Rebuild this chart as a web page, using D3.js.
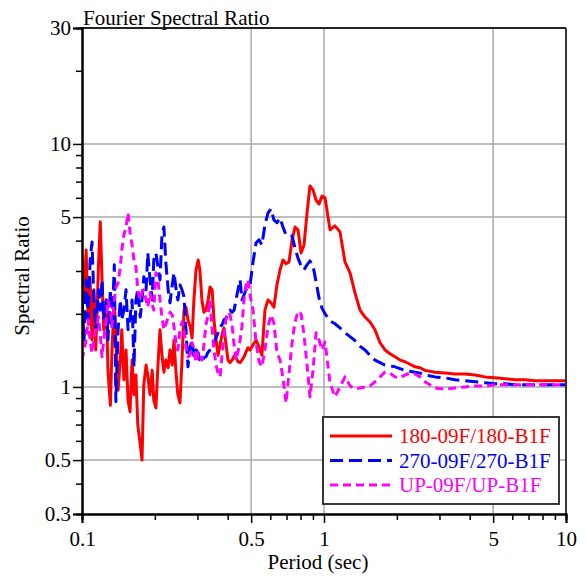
<!DOCTYPE html>
<html><head><meta charset="utf-8">
<script src="https://cdn.jsdelivr.net/npm/d3@7"></script>
</head>
<body style="margin:0"><svg id="c" width="586" height="581"></svg>
<script>
const periods = [0.100,0.102,0.104,0.106,0.108,0.110,0.112,0.114,0.117,0.119,0.121,0.123,0.126,0.128,0.131,0.133,0.136,0.138,0.141,0.144,0.146,0.149,0.152,0.155,0.158,0.161,0.164,0.167,0.170,0.174,0.177,0.180,0.184,0.187,0.191,0.195,0.198,0.202,0.206,0.210,0.214,0.218,0.222,0.227,0.231,0.236,0.240,0.245,0.249,0.254,0.259,0.264,0.269,0.274,0.280,0.285,0.290,0.296,0.302,0.307,0.313,0.319,0.325,0.332,0.338,0.345,0.351,0.358,0.365,0.372,0.379,0.386,0.394,0.401,0.409,0.417,0.425,0.433,0.441,0.450,0.458,0.467,0.476,0.485,0.495,
0.509,0.524,0.539,0.554,0.570,0.587,0.604,0.621,0.639,0.658,0.677,0.697,0.717,0.738,0.759,0.781,0.804,0.827,0.851,0.875,0.901,0.927,0.954,0.981,1.010,
1.059,1.110,1.164,1.221,1.281,1.343,1.409,1.477,1.549,1.624,1.704,1.787,1.874,1.965,2.061,2.161,2.267,2.377,2.494,2.615,
2.875,3.162,3.478,3.825,4.207,4.627,5.088,5.596,6.155,6.769,7.445,8.188,9.005,10.0];

const ratio180 = [3.49,2.28,3.66,1.89,2.76,1.56,2.51,1.42,3.18,4.78,2.76,1.72,2.28,1.17,0.84,1.42,2.28,1.56,0.97,1.29,1.72,1.07,1.42,0.88,0.79,1.29,0.93,1.12,0.70,0.58,0.50,1.02,1.23,1.12,0.93,1.17,0.88,0.82,1.23,1.72,1.35,1.15,1.29,1.20,1.42,1.23,1.56,1.12,0.93,0.86,1.29,2.07,2.13,1.89,1.77,1.59,2.28,3.03,3.33,3.03,2.28,2.03,2.07,2.28,2.58,2.51,1.89,1.56,1.35,1.49,1.64,1.75,1.49,1.29,1.26,1.29,1.34,1.32,1.27,1.26,1.29,1.33,1.39,1.45,1.42,
1.49,1.56,1.46,1.35,2.07,2.28,2.22,2.13,2.63,3.03,3.33,3.21,3.27,4.03,4.55,4.43,3.56,3.84,5.20,6.72,6.47,5.88,5.66,6.11,6.00,
4.43,4.60,4.35,3.27,2.95,2.44,2.07,1.94,1.85,1.72,1.52,1.42,1.37,1.33,1.29,1.27,1.24,1.21,1.20,1.17,
1.15,1.14,1.13,1.13,1.12,1.10,1.09,1.08,1.07,1.07,1.06,1.06,1.06,1.06];

const ratio270 = [2.28,1.56,2.76,1.89,3.33,3.95,2.28,1.72,2.51,2.07,2.76,1.89,2.28,1.56,2.51,1.72,3.18,0.87,1.72,2.28,1.89,2.07,2.51,1.72,1.94,2.28,1.21,2.28,2.51,1.94,2.28,2.84,2.51,3.56,2.76,2.28,3.33,3.56,3.12,2.76,4.22,4.55,3.27,2.51,2.22,2.63,2.95,2.51,2.28,2.63,2.51,2.35,1.72,1.21,1.46,1.56,1.33,1.42,1.38,1.29,1.26,1.32,1.33,1.39,1.42,1.46,1.53,1.59,1.67,1.77,1.80,1.89,1.92,2.03,2.07,2.03,2.07,2.28,2.51,2.76,2.28,2.39,2.51,2.58,2.63,
3.27,3.92,4.03,3.84,4.64,5.20,5.40,4.87,4.74,4.96,4.55,4.22,4.18,4.18,3.73,3.39,3.15,3.03,3.18,3.30,3.15,2.71,2.32,2.11,2.00,
1.87,1.82,1.75,1.67,1.61,1.55,1.47,1.42,1.35,1.29,1.26,1.23,1.22,1.21,1.19,1.17,1.16,1.15,1.14,1.12,
1.10,1.09,1.07,1.06,1.05,1.04,1.03,1.03,1.02,1.02,1.02,1.02,1.02,1.02];

const ratioUP = [1.29,1.42,1.56,1.89,1.56,1.38,1.56,1.72,1.94,1.64,1.33,1.56,1.89,2.28,2.07,1.77,2.28,2.56,2.68,3.12,3.66,4.22,4.55,5.20,4.31,3.84,3.33,3.12,2.51,2.28,2.46,2.51,2.28,2.13,2.44,2.18,2.07,2.95,2.76,2.28,1.94,1.72,1.80,1.94,2.03,1.98,1.77,1.49,1.42,1.72,1.85,1.72,1.46,1.33,1.35,1.52,1.42,1.26,1.39,1.35,1.29,1.49,1.80,1.98,2.28,1.72,1.42,1.23,1.14,1.10,1.35,1.64,1.92,2.02,1.98,1.80,1.49,1.29,1.39,1.56,1.77,2.28,2.63,2.76,2.39,
2.07,1.52,1.27,1.21,1.42,1.77,1.98,1.83,1.39,1.29,1.09,0.86,1.14,1.52,1.85,2.05,2.00,1.64,1.23,0.91,1.17,1.67,1.56,1.42,1.53,
1.04,0.91,1.00,1.10,1.01,0.98,0.99,1.00,1.01,1.05,1.10,1.15,1.14,1.10,1.09,1.12,1.14,1.13,1.10,1.05,
0.99,0.98,0.99,1.00,1.01,1.01,1.02,1.02,1.02,1.02,1.02,1.02,1.02,1.02];

const seriesNames = ["180-09F/180-B1F","270-09F/270-B1F","UP-09F/UP-B1F"];
const seriesColors = ["#ff0000","#0000ff","#ff00ff"];
const seriesDash = [null,"13,6","8,5"];
const xMajor = [0.1,0.5,1,5,10];
const xMinor = [0.2,0.3,0.4,0.6,0.7,0.8,0.9,2,3,4,6,7,8,9];
const yMajor = [0.3,0.5,1,5,10,30];
const yMinor = [0.4,0.6,0.7,0.8,0.9,2,3,4,6,7,8,9,20];
const xGrid = [0.5,1,5];
const yGrid = [0.5,1,5,10];

const FONT = "'Liberation Serif'";
const svg = d3.select("#c");
const L=82,R=566,T=28,B=514;
const x = d3.scaleLog().domain([0.1,10]).range([L,R]);
const y = d3.scaleLog().domain([0.3,30]).range([B,T]);

// grid
svg.append("g").selectAll("line").data(xGrid).join("line")
  .attr("x1",d=>x(d)).attr("x2",d=>x(d)).attr("y1",T).attr("y2",B)
  .attr("stroke","#aaaaaa").attr("stroke-width",1.5);
svg.append("g").selectAll("line").data(yGrid).join("line")
  .attr("x1",L).attr("x2",R).attr("y1",d=>y(d)).attr("y2",d=>y(d))
  .attr("stroke","#aaaaaa").attr("stroke-width",1.5);

// series
const all = [ratio180, ratio270, ratioUP];
const line = d3.line().x(d=>x(d[0])).y(d=>y(d[1]));
svg.append("clipPath").attr("id","pc").append("rect")
  .attr("x",L).attr("y",T).attr("width",R-L).attr("height",B-T);
all.forEach((vals,i)=>{
  const pts = periods.map((p,j)=>[p,vals[j]]);
  svg.append("path").datum(pts).attr("d",line)
    .attr("clip-path","url(#pc)")
    .attr("fill","none").attr("stroke",seriesColors[i]).attr("stroke-width",3)
    .attr("stroke-linejoin","round")
    .attr("stroke-dasharray",seriesDash[i]);
});

// frame
svg.append("line").attr("x1",L).attr("x2",R).attr("y1",T).attr("y2",T).attr("stroke","#222").attr("stroke-width",1.8);
svg.append("line").attr("x1",R).attr("x2",R).attr("y1",T).attr("y2",B).attr("stroke","#222").attr("stroke-width",1.8);

// axes
const fmt = d=>String(d);
const gx = svg.append("g").attr("transform",`translate(0,${B})`);
gx.call(d3.axisBottom(x).tickValues(xMinor).tickSize(6).tickFormat(""));
const gx2 = svg.append("g").attr("transform",`translate(0,${B})`);
gx2.call(d3.axisBottom(x).tickValues(xMajor).tickSize(9).tickFormat(fmt).tickPadding(8));
const gy = svg.append("g").attr("transform",`translate(${L},0)`);
gy.call(d3.axisLeft(y).tickValues(yMinor).tickSize(6).tickFormat(""));
const gy2 = svg.append("g").attr("transform",`translate(${L},0)`);
gy2.call(d3.axisLeft(y).tickValues(yMajor).tickSize(9).tickFormat(fmt).tickPadding(2));
svg.selectAll("g").attr("font-family",null).attr("font-size",null);
svg.selectAll(".domain").attr("stroke","#000").attr("stroke-width",2);
svg.selectAll(".tick line").attr("stroke","#000").attr("stroke-width",1.5);
svg.selectAll(".tick text").attr("fill","#000").style("font-size","21px").style("font-family",FONT);

// titles
svg.append("text").attr("x",83).attr("y",25).style("font-size","21px").style("font-family",FONT).text("Fourier Spectral Ratio");
svg.append("text").attr("x",318).attr("y",569).attr("text-anchor","middle").style("font-size","21px").style("font-family",FONT).text("Period (sec)");
svg.append("text").attr("transform","translate(29,276) rotate(-90)").attr("text-anchor","middle").style("font-size","21px").style("font-family",FONT).text("Spectral Ratio");

// legend
const lg = svg.append("g");
lg.append("rect").attr("x",323).attr("y",417).attr("width",236).attr("height",87)
  .attr("fill","#fff").attr("stroke","#222").attr("stroke-width",1.8);
seriesNames.forEach((n,i)=>{
  const yy = 436 + i*24.5;
  lg.append("line").attr("x1",330).attr("x2",392).attr("y1",yy).attr("y2",yy)
    .attr("stroke",seriesColors[i]).attr("stroke-width",3).attr("stroke-dasharray",seriesDash[i]);
  lg.append("text").attr("x",399).attr("y",yy+7).style("font-size","21px").style("font-family",FONT).attr("fill",seriesColors[i]).text(n);
});
</script></body></html>
